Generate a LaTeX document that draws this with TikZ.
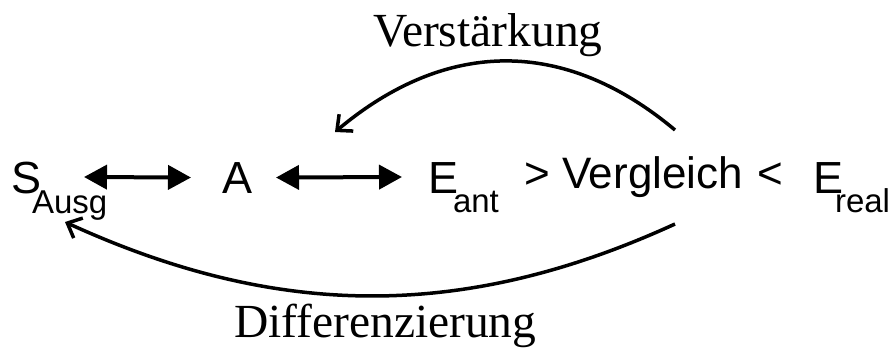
\documentclass[tikz,border=0pt]{standalone}
\usepackage{fontspec}
\setmainfont{Liberation Sans}
\newfontfamily\serifface{Liberation Serif}
\usetikzlibrary{arrows.meta}

% symbol with a lowered index set in a smaller size
\newcommand{\symidx}[4]{#1\kern#3\raisebox{#4}{\fontsize{33}{33}\selectfont #2}}

\begin{document}
\begin{tikzpicture}[x=1pt,y=-1pt,
  txt/.style={inner sep=0pt,outer sep=0pt,anchor=base west},
  big/.style={txt,font=\fontsize{45}{45}\selectfont},
  mid/.style={txt,font=\fontsize{44}{44}\selectfont},
  lbl/.style={txt,font=\serifface\fontsize{47.5}{48}\selectfont},
  dbl/.style={line width=4pt,{Triangle[length=23pt,width=24pt]}-{Triangle[length=23pt,width=24pt]}},
  loopback/.style={line width=3.5pt,-{Straight Barb[length=12pt,width=22pt]}}]
\useasboundingbox (0,0) rectangle (893,349);

% main chain of terms
\node[big] (S) at (12,193) {\symidx{S}{Ausg}{-10pt}{-20pt}};
\node[big] (A) at (222,193) {A};
\node[big] (E1) at (428,193) {\symidx{E}{ant}{-5pt}{-19pt}};
\node[mid] (gt) at (524,188) {>};
\node[mid] (V) at (562,188) {Vergleich};
\node[mid] (lt) at (757,188) {<};
\node[big] (E2) at (813,193) {\symidx{E}{real}{-8pt}{-19pt}};

% two-way links
\draw[dbl] ([xshift=72pt,yshift=16pt]S.base west) -- ([xshift=-31pt]A.west);
\draw[dbl] ([xshift=24pt]A.east) -- ([xshift=-26pt,yshift=16pt]E1.base west);

% feedback arcs
\coordinate (up0) at (675,130);
\coordinate (up1) at (335,132);
\draw[loopback] (up0) .. controls (564,37) and (446,39) .. (up1);

\coordinate (lo0) at (675,224);
\coordinate (lo1) at (65,222);
\draw[loopback] (lo0) .. controls (463,321) and (277,319) .. (lo1);

% arc labels
\node[lbl] (verst) at (373,46) {Verstärkung};
\node[lbl] (diff) at (234,337) {Differenzierung};
\end{tikzpicture}
\end{document}
